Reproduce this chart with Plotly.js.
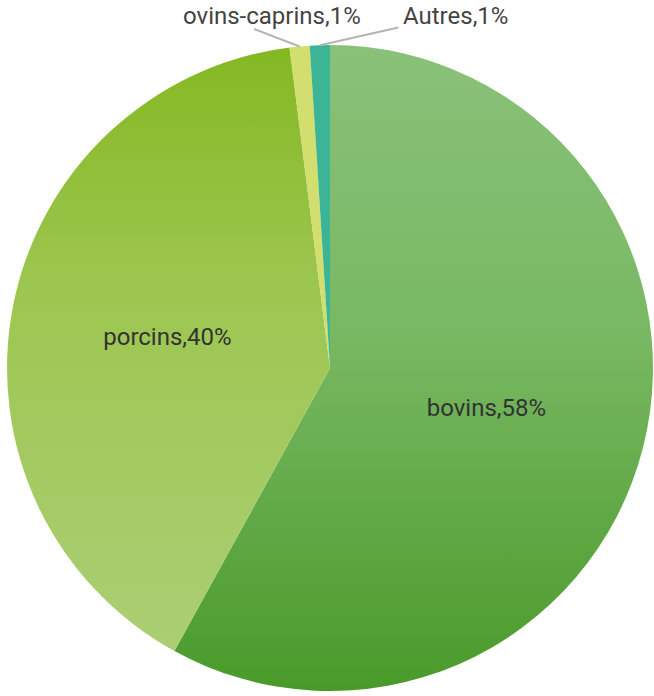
<!DOCTYPE html>
<html>
<head>
<meta charset="utf-8">
<script src="https://cdn.plot.ly/plotly-3.0.1.min.js"></script>
<style>
  html, body { margin: 0; padding: 0; background: #ffffff; }
  #chart { width: 654px; height: 696px; }
</style>
</head>
<body>
<div id="chart"></div>
<script>
// Répartition par espèce (%)
const labels = ['bovins', 'porcins', 'ovins-caprins', 'Autres'];
const values = [58, 40, 1, 1];
const baseColors = ['#76b563', '#9cc54e', '#d2de6e', '#3cb496'];
const showInside = ['inside', 'inside', 'none', 'none'];

// vertical shading for the two large slices (top -> bottom)
const shading = {
  0: [['0%', '#89c179'], ['45%', '#78b862'], ['100%', '#4a9a2a']],
  1: [['0%', '#84b822'], ['40%', '#9dc650'], ['100%', '#abce74']]
};

const domX = [0.0107, 0.9985];
const domY = [0.0072, 0.9353];
const FONT = 'Roboto, Arial, sans-serif';

const trace = {
  type: 'pie',
  labels: labels,
  values: values,
  sort: false,
  direction: 'clockwise',
  rotation: 0,
  textposition: showInside,
  texttemplate: '%{label},%{percent:.0%}',
  insidetextorientation: 'horizontal',
  textfont: { family: FONT, size: 24, color: '#333333' },
  marker: { colors: baseColors, line: { width: 0 } },
  hoverinfo: 'label+percent',
  domain: { x: domX, y: domY },
  showlegend: false
};

// outside labels for the thin slices: a text block above the pie and a
// leader line ending on the slice's outer mid-arc
const total = values.reduce((a, b) => a + b, 0);
const W = 654, H = 696;
const cx = (domX[0] + domX[1]) / 2, cy = (domY[0] + domY[1]) / 2;
const rPx = Math.min((domX[1] - domX[0]) * W, (domY[1] - domY[0]) * H) / 2;
const outside = {
  2: { text: [272, 16], tail: [-47, -18] },
  3: { text: [455, 16], tail: [80, -18] }
};
const annotations = [];
let acc = 0;
values.forEach((v, i) => {
  const mid = (acc + v / 2) / total * 2 * Math.PI;
  acc += v;
  const o = outside[i];
  if (!o) return;
  annotations.push({
    xref: 'paper', yref: 'paper',
    x: cx + rPx * Math.sin(mid) / W,
    y: cy + rPx * Math.cos(mid) / H,
    text: '',
    showarrow: true, arrowhead: 0, arrowwidth: 2, arrowcolor: '#b4b4b4',
    standoff: 0, startstandoff: 0,
    ax: o.tail[0], ay: o.tail[1]
  });
  annotations.push({
    xref: 'paper', yref: 'paper',
    x: o.text[0] / W, y: 1 - o.text[1] / H,
    xanchor: 'center', yanchor: 'middle',
    text: labels[i] + ',' + Math.round(v / total * 100) + '%',
    showarrow: false,
    font: { family: FONT, size: 24, color: '#444444' }
  });
});

const layout = {
  width: W, height: H,
  margin: { l: 0, r: 0, t: 0, b: 0 },
  paper_bgcolor: '#ffffff',
  annotations: annotations
};

function applyShading(gd) {
  const svg = gd.querySelector('svg.main-svg');
  if (!svg) return;
  let defs = svg.querySelector('defs');
  if (!defs) { defs = document.createElementNS('http://www.w3.org/2000/svg', 'defs'); svg.prepend(defs); }
  const paths = gd.querySelectorAll('.slice path.surface');
  paths.forEach((p, i) => {
    if (!shading[i]) return;
    const id = 'sliceShade' + i;
    if (!document.getElementById(id)) {
      const g = document.createElementNS('http://www.w3.org/2000/svg', 'linearGradient');
      g.setAttribute('id', id);
      g.setAttribute('x1', '0'); g.setAttribute('y1', '0');
      g.setAttribute('x2', '0'); g.setAttribute('y2', '1');
      shading[i].forEach(([off, col]) => {
        const s = document.createElementNS('http://www.w3.org/2000/svg', 'stop');
        s.setAttribute('offset', off);
        s.setAttribute('stop-color', col);
        g.appendChild(s);
      });
      defs.appendChild(g);
    }
    p.style.fill = 'url(#' + id + ')';
  });
}

const gd = document.getElementById('chart');
Plotly.newPlot(gd, [trace], layout, { displayModeBar: false, staticPlot: true }).then(() => {
  applyShading(gd);
  gd.on('plotly_afterplot', () => applyShading(gd));
});
</script>
</body>
</html>
